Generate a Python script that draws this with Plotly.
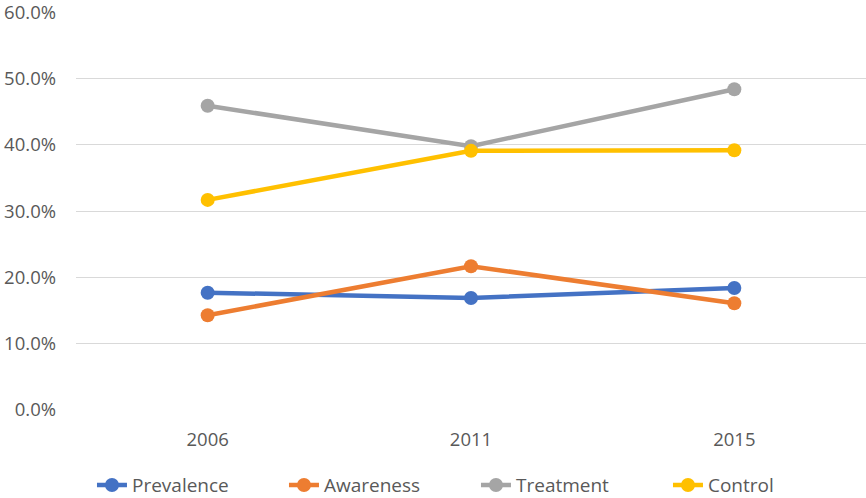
import plotly.graph_objects as go

years = ["2006", "2011", "2015"]
prevalence = [17.7, 16.9, 18.4]
awareness = [14.3, 21.7, 16.1]
treatment = [45.9, 39.8, 48.4]
control = [31.7, 39.1, 39.2]
tick_vals = [0, 10, 20, 30, 40, 50, 60]
tick_text = ["0.0%", "10.0%", "20.0%", "30.0%", "40.0%", "50.0%", "60.0%"]

series = [
    ("Prevalence", prevalence, "#4472C4"),
    ("Awareness", awareness, "#ED7D31"),
    ("Treatment", treatment, "#A5A5A5"),
    ("Control", control, "#FFC000"),
]

fig = go.Figure()
for name, vals, col in series:
    fig.add_trace(go.Scatter(
        x=years, y=vals, name=name, mode="lines+markers",
        line=dict(color=col, width=4.5),
        marker=dict(color=col, size=14),
    ))

fig.update_layout(
    width=866, height=498,
    margin=dict(l=76, r=0, t=12, b=88, autoexpand=False),
    paper_bgcolor="white", plot_bgcolor="white",
    font=dict(family="Open Sans, Noto Sans, sans-serif", size=18.5, color="#595959"),
    showlegend=True,
    legend=dict(orientation="h", x=0.5063, xanchor="center",
                y=-0.189, yanchor="middle", entrywidth=147,
                font=dict(size=19, color="#595959"), tracegroupgap=0),
    xaxis=dict(type="category", range=[-0.5, 2.5], showgrid=False, showline=False,
               zeroline=False, ticks="", ticklabelstandoff=16, automargin=False),
    yaxis=dict(range=[0, 60.05], tickvals=tick_vals, ticktext=tick_text,
               showgrid=True, gridcolor="#D9D9D9", gridwidth=1.3, zeroline=False,
               showline=False, ticks="", ticklabelstandoff=19, automargin=False,
               ticklabeloverflow="allow"),
)
fig.write_html("out.html", config={"displayModeBar": False},
               post_script="document.body.style.margin='0';document.body.style.overflow='hidden';")
